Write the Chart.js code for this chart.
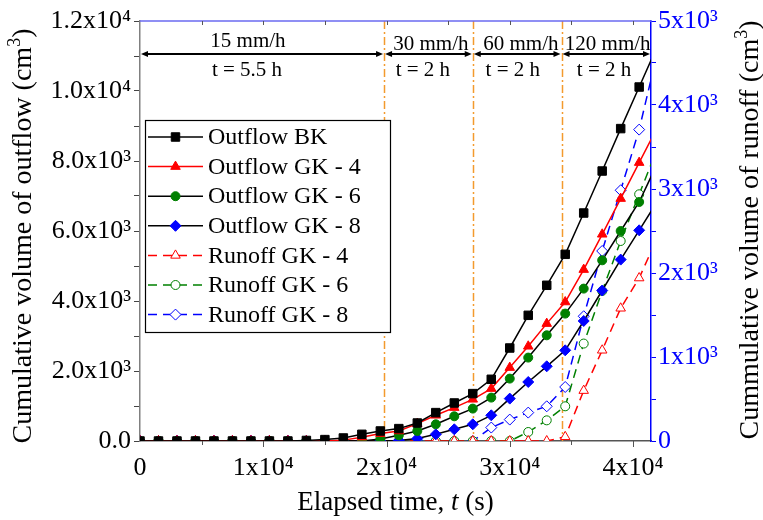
<!DOCTYPE html>
<html>
<head>
<meta charset="utf-8">
<script src="https://cdn.jsdelivr.net/npm/chart.js@4.4.1/dist/chart.umd.min.js"></script>
<style>
html,body{margin:0;padding:0;background:#fff;}
#wrap{width:763px;height:520px;position:relative;}
</style>
</head>
<body>
<div id="wrap"><canvas id="c" width="763" height="520"></canvas></div>
<script>
// ---- data (elapsed time in s) ----
const timeS = [0,1500,3000,4500,6000,7500,9000,10500,12000,13500,15000,16500,18000,19500,21000,22500,24000,25500,27000,28500,30000,31500,33000,34500,36000,37500,39000,40500,42000];
const outflowBK  = [0,0,0,0,0,0,0,0,0,15,40,86,191,286,354,514,811,1086,1354,1763,2657,3591,4449,5334,6514,7714,8926,10114,11300];
const outflowGK4 = [0,0,0,0,0,0,0,0,0,0,0,25,110,211,286,497,734,954,1191,1497,2097,2706,3354,3971,4897,5906,6926,7954,8980];
const outflowGK6 = [0,0,0,0,0,0,0,0,0,0,0,0,0,60,163,286,477,706,926,1240,1783,2383,3020,3640,4354,5163,6000,6829,7950];
const outflowGK8 = [0,0,0,0,0,0,0,0,0,0,0,0,0,0,15,69,191,334,477,734,1211,1686,2134,2591,3429,4300,5183,6020,6860];
const runoffGK4  = [0,0,0,0,0,0,0,0,0,0,0,0,0,0,0,0,0,0,0,0,0,0,0,50,600,1080,1580,1940,2430];
const runoffGK6  = [0,0,0,0,0,0,0,0,0,0,0,0,0,0,0,0,0,0,0,0,0,107,246,413,1160,1786,2381,2937,3490];
const runoffGK8  = [0,0,0,0,0,0,0,0,0,0,0,0,0,0,0,0,0,0,0,160,255,338,413,643,1485,2262,2985,3707,4640];

const seriesLabels = ['Outflow BK','Outflow GK - 4','Outflow GK - 6','Outflow GK - 8','Runoff GK - 4','Runoff GK - 6','Runoff GK - 8'];

// tick labels
const xTickValues = [0,10000,20000,30000,40000];
const xTickLabels = ['0','1x10\u2074','2x10\u2074','3x10\u2074','4x10\u2074'];
const yLeftTickValues = [0,2000,4000,6000,8000,10000,12000];
const yLeftTickLabels = ['0.0','2.0x10\u00b3','4.0x10\u00b3','6.0x10\u00b3','8.0x10\u00b3','1.0x10\u2074','1.2x10\u2074'];
const yRightTickValues = [0,1000,2000,3000,4000,5000];
const yRightTickLabels = ['0','1x10\u00b3','2x10\u00b3','3x10\u00b3','4x10\u00b3','5x10\u00b3'];

// rain phases
const phaseBounds = [0,19800,27000,34200,41460];
const rateLabels = ['15 mm/h','30 mm/h','60 mm/h','120 mm/h'];
const durationLabels = ['t = 5.5 h','t = 2 h','t = 2 h','t = 2 h'];
const rateLabelT = [8760,23600,30900,37950];
const durationLabelT = [8680,22950,30250,37650];

const FONT = "'Liberation Serif','Times New Roman',serif";
const ORANGE = '#F39A2E';

function pts(arr){ return timeS.map((t,i)=>({x:t,y:arr[i]})); }

function mk(label, data, axis, line, mcol, style, r, hollow, dash){
  return {
    label, data: pts(data), yAxisID: axis,
    borderColor: line, borderWidth: 1.5, borderDash: dash||[],
    pointStyle: style, pointRadius: r, pointHoverRadius: r,
    pointBackgroundColor: hollow ? '#ffffff' : mcol,
    pointBorderColor: mcol, pointBorderWidth: 1,
    tension: 0, fill: false
  };
}

const datasets = [
  mk(seriesLabels[0], outflowBK,  'y',  '#000000','#000000','rect',6,false),
  mk(seriesLabels[1], outflowGK4, 'y',  '#FF0000','#FF0000','triangle',5.5,false),
  mk(seriesLabels[2], outflowGK6, 'y',  '#000000','#008000','circle',4.5,false),
  mk(seriesLabels[3], outflowGK8, 'y',  '#000000','#0000FF','rectRot',5.5,false),
  mk(seriesLabels[4], runoffGK4,  'y2', '#FF0000','#FF0000','triangle',5.5,true,[9,6]),
  mk(seriesLabels[5], runoffGK6,  'y2', '#008000','#008000','circle',4.5,true,[9,6]),
  mk(seriesLabels[6], runoffGK8,  'y2', '#0000FF','#0000FF','rectRot',5.5,true,[9,6])
];

function drawRich(ctx, parts, cx, cy, rot){
  ctx.save();
  ctx.translate(cx, cy);
  ctx.rotate(rot);
  let w = 0;
  parts.forEach(p=>{ ctx.font = p.font; p.w = ctx.measureText(p.t).width; w += p.w; });
  let x = -w/2;
  ctx.textBaseline = 'alphabetic';
  ctx.textAlign = 'left';
  ctx.fillStyle = '#000';
  parts.forEach(p=>{ ctx.font = p.font; ctx.fillText(p.t, x, p.dy); x += p.w; });
  ctx.restore();
}

function arrowHead(ctx, x, y, dir){
  ctx.beginPath();
  ctx.moveTo(x, y);
  ctx.lineTo(x - dir*7, y - 3);
  ctx.lineTo(x - dir*7, y + 3);
  ctx.closePath();
  ctx.fill();
}

const customPlugin = {
  id: 'custom',
  beforeDatasetsDraw(chart){
    const {ctx, chartArea: a, scales} = chart;
    const x = scales.x;
    ctx.save();
    ctx.strokeStyle = ORANGE;
    ctx.lineWidth = 1.5;
    ctx.setLineDash([8,3,2,3]);
    phaseBounds.slice(1,-1).forEach(t=>{
      const px = Math.round(x.getPixelForValue(t)) + 0.5;
      ctx.beginPath(); ctx.moveTo(px, a.top); ctx.lineTo(px, a.bottom); ctx.stroke();
    });
    ctx.restore();
  },
  afterDatasetsDraw(chart){
    const {ctx, chartArea: a, scales} = chart;
    const x = scales.x;
    ctx.save();
    // top frame
    ctx.strokeStyle = '#6A6AF0';
    ctx.lineWidth = 1.5;
    ctx.beginPath(); ctx.moveTo(a.left, a.top); ctx.lineTo(a.right, a.top); ctx.stroke();
    ctx.strokeStyle = '#555';
    ctx.lineWidth = 1;
    for (let t = 5000; t < phaseBounds[phaseBounds.length-1]; t += 5000){
      const px = Math.round(x.getPixelForValue(t)) + 0.5;
      ctx.beginPath(); ctx.moveTo(px, a.top); ctx.lineTo(px, a.top + 4); ctx.stroke();
      const len = (t % 10000 === 0) ? 6 : 4;
      ctx.beginPath(); ctx.moveTo(px, a.bottom); ctx.lineTo(px, a.bottom + len); ctx.stroke();
    }
    // x tick labels
    ctx.fillStyle = '#000';
    ctx.font = '26px ' + FONT;
    ctx.textAlign = 'center';
    ctx.textBaseline = 'alphabetic';
    xTickValues.forEach((v,i)=>{
      ctx.fillText(xTickLabels[i], x.getPixelForValue(v), a.bottom + 34);
    });
    // phase arrows
    const ay = a.top + 33;
    ctx.strokeStyle = '#000'; ctx.fillStyle = '#000'; ctx.lineWidth = 2;
    for (let i = 0; i < phaseBounds.length - 1; i++){
      const x1 = x.getPixelForValue(phaseBounds[i]) + 1;
      const x2 = x.getPixelForValue(phaseBounds[i+1]) - 1;
      ctx.beginPath(); ctx.moveTo(x1 + 3, ay); ctx.lineTo(x2 - 3, ay); ctx.stroke();
      arrowHead(ctx, x1, ay, -1);
      arrowHead(ctx, x2, ay, 1);
    }
    ctx.font = '21px ' + FONT;
    ctx.textAlign = 'center';
    ctx.textBaseline = 'alphabetic';
    rateLabels.forEach((s,i)=>{
      const yy = i === 0 ? a.top + 26 : a.top + 29;
      ctx.fillText(s, x.getPixelForValue(rateLabelT[i]), yy);
    });
    durationLabels.forEach((s,i)=>{
      ctx.fillText(s, x.getPixelForValue(durationLabelT[i]), a.top + 55);
    });
    // legend
    const bx = a.left + 5, by = a.top + 99, bw = 245, bh = 212;
    ctx.fillStyle = '#fff';
    ctx.fillRect(bx, by, bw, bh);
    ctx.strokeStyle = '#000'; ctx.lineWidth = 1.2; ctx.setLineDash([]);
    ctx.strokeRect(bx + 0.5, by + 0.5, bw, bh);
    chart.data.datasets.forEach((ds, i)=>{
      const yy = by + 17 + i * 29.6;
      ctx.save();
      ctx.strokeStyle = ds.borderColor; ctx.lineWidth = ds.borderWidth;
      ctx.setLineDash(ds.borderDash || []);
      ctx.beginPath(); ctx.moveTo(bx + 3, yy); ctx.lineTo(bx + 58, yy); ctx.stroke();
      ctx.setLineDash([]);
      ctx.fillStyle = ds.pointBackgroundColor;
      ctx.strokeStyle = ds.pointBorderColor;
      ctx.lineWidth = ds.pointBorderWidth;
      Chart.helpers.drawPoint(ctx, {pointStyle: ds.pointStyle, radius: ds.pointRadius, borderWidth: ds.pointBorderWidth, rotation: 0}, bx + 30.5, yy);
      ctx.restore();
      ctx.fillStyle = '#000';
      ctx.font = '24px ' + FONT;
      ctx.textAlign = 'left';
      ctx.textBaseline = 'middle';
      ctx.fillText(ds.label, bx + 63, yy + 1);
    });
    ctx.restore();
  },
  afterDraw(chart){
    const {ctx, chartArea: a} = chart;
    const F = '28px ' + FONT, S = '18px ' + FONT;
    drawRich(ctx, [
      {t:'Cumulative volume of outflow (cm', font:F, dy:0},
      {t:'3', font:S, dy:-11},
      {t:')', font:F, dy:0}
    ], 31, 236, -Math.PI/2);
    drawRich(ctx, [
      {t:'Cummulative volume of runoff (cm', font:F, dy:0},
      {t:'3', font:S, dy:-11},
      {t:')', font:F, dy:0}
    ], 758, 230, -Math.PI/2);
    drawRich(ctx, [
      {t:'Elapsed time, ', font:'27px ' + FONT, dy:0},
      {t:'t', font:'italic 27px ' + FONT, dy:0},
      {t:' (s)', font:'27px ' + FONT, dy:0}
    ], (a.left + a.right)/2, 510, 0);
  }
};

function labelFrom(values, labels){
  return function(v){
    const i = values.indexOf(Math.round(v));
    return i >= 0 ? labels[i] : '';
  };
}

new Chart(document.getElementById('c'), {
  type: 'line',
  data: { datasets },
  plugins: [customPlugin],
  options: {
    responsive: false,
    animation: false,
    devicePixelRatio: 1,
    layout: { padding: { top: 21, left: 0, right: 0, bottom: 0 } },
    plugins: { legend: { display: false }, tooltip: { enabled: false } },
    scales: {
      x: {
        type: 'linear', position: 'bottom',
        min: 0, max: phaseBounds[phaseBounds.length-1],
        afterFit(s){ s.height = 79; },
        ticks: { display: false, stepSize: 10000 },
        grid: { drawOnChartArea: false, drawTicks: false },
        border: { color: '#555', width: 1.5 }
      },
      y: {
        type: 'linear', position: 'left',
        min: 0, max: 12000,
        afterFit(s){ s.width = 140; },
        ticks: { stepSize: 1000, autoSkip: false, padding: 3, color: '#000',
                 font: { family: FONT, size: 26 }, callback: labelFrom(yLeftTickValues, yLeftTickLabels) },
        grid: { drawOnChartArea: false, drawTicks: true, tickLength: 6, color: '#444' },
        border: { color: '#808080', width: 1.5 }
      },
      y2: {
        type: 'linear', position: 'right',
        min: 0, max: 5000,
        afterFit(s){ s.width = 112; },
        ticks: { stepSize: 500, autoSkip: false, padding: 2, color: '#0000FF',
                 font: { family: FONT, size: 26 }, callback: labelFrom(yRightTickValues, yRightTickLabels) },
        grid: { drawOnChartArea: false, drawTicks: true, tickLength: 5, color: '#0000FF' },
        border: { color: '#0000FF', width: 1.5 }
      }
    }
  }
});
</script>
</body>
</html>
